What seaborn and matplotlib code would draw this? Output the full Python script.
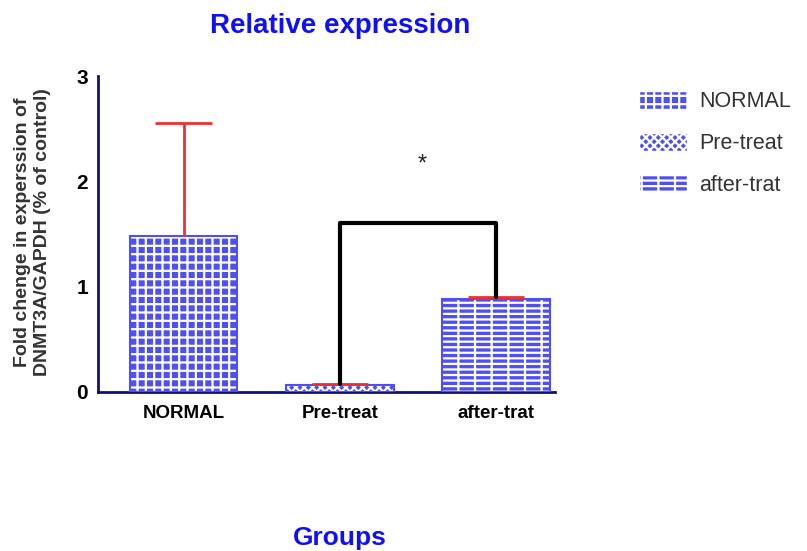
import pandas as pd
import matplotlib
matplotlib.use("Agg")
import matplotlib.pyplot as plt
import matplotlib.patches as mpatches
import seaborn as sns

# Values
groups = ["NORMAL", "Pre-treat", "after-trat"]
means = [1.48, 0.06, 0.88]
errors = [1.07, 0.015, 0.02]
hatches = ["++", "xxxx", "+--"]
sig_pair = (1, 2)
sig_height = 1.6
sig_label = "*"
sig_label_y = 2.16

blue = "#5050f2"
navy = "#10107a"
title_blue = "#1010f0"

sns.set_style("white")
plt.rcParams["font.family"] = ["Liberation Sans", "DejaVu Sans"]
plt.rcParams["hatch.linewidth"] = 1.6

data = pd.DataFrame({"group": groups, "value": means})

fig = plt.figure(figsize=(8.07, 5.51), dpi=100)
ax = fig.add_axes([0.121, 0.289, 0.567, 0.573])

sns.barplot(x="group", y="value", data=data, color=blue, width=0.69,
            saturation=1, errorbar=None, ax=ax)

# white hatches on blue bars, with blue outline
for p, h in zip(ax.patches, hatches):
    p.set_hatch(h)
    p.set_edgecolor("white")
    p.set_linewidth(0)
    ax.add_patch(mpatches.Rectangle(p.get_xy(), p.get_width(), p.get_height(),
                                    fill=False, edgecolor=blue, lw=1.5, zorder=3))

# upper error bars only (red)
xs = range(len(groups))
tops = [m + e for m, e in zip(means, errors)]
ax.vlines(xs, means, tops, color="#f03030", lw=2, zorder=4)
ax.hlines(tops, [x - 0.18 for x in xs], [x + 0.18 for x in xs], color="#f03030", lw=2, zorder=4)

# significance bracket
a, b = sig_pair
ax.plot([a, a, b, b], [tops[a], sig_height, sig_height, tops[b]], color="black", lw=3, zorder=5)
ax.text((a + b) / 2 + 0.03, sig_label_y, sig_label, ha="center", va="center", fontsize=17, color="#222222")

ax.set_xlim(-0.55, 2.38)
ax.set_ylim(0, 3)
ax.set_yticks([0, 1, 2, 3])
sns.despine(ax=ax)
for s in ["left", "bottom"]:
    ax.spines[s].set_color(navy)
    ax.spines[s].set_linewidth(2)
ax.tick_params(axis="both", colors=navy, width=2, length=6, direction="out")
ax.tick_params(axis="y", pad=1)
for lbl in ax.get_xticklabels() + ax.get_yticklabels():
    lbl.set_color("black")
    lbl.set_fontweight("bold")
for lbl in ax.get_xticklabels():
    lbl.set_fontsize(13.5)
for lbl in ax.get_yticklabels():
    lbl.set_fontsize(15)
ax.set_xlabel("")
ax.set_ylabel("")

fig.text(0.421, 0.952, "Relative expression", color=title_blue, fontsize=20,
         fontweight="bold", ha="center", va="center")
fig.text(0.421, 0.024, "Groups", color=title_blue, fontsize=19,
         fontweight="bold", ha="center", va="center")
fig.text(0.040, 0.579, "Fold chenge in experssion of\nDNMT3A/GAPDH (% of control)",
         color="#333333", fontsize=14, fontweight="bold", linespacing=1.25,
         rotation=90, ha="center", va="center")

handles = [mpatches.Patch(facecolor=blue, edgecolor="white", hatch=h, label=g)
           for g, h in zip(groups, hatches)]
fig.legend(handles=handles, loc="upper left", bbox_to_anchor=(0.768, 0.87), frameon=False,
           fontsize=15.5, labelspacing=0.95, handlelength=2.2, handleheight=0.9,
           handletextpad=0.6, labelcolor="#333333")

fig.savefig("out.png", dpi=100)
